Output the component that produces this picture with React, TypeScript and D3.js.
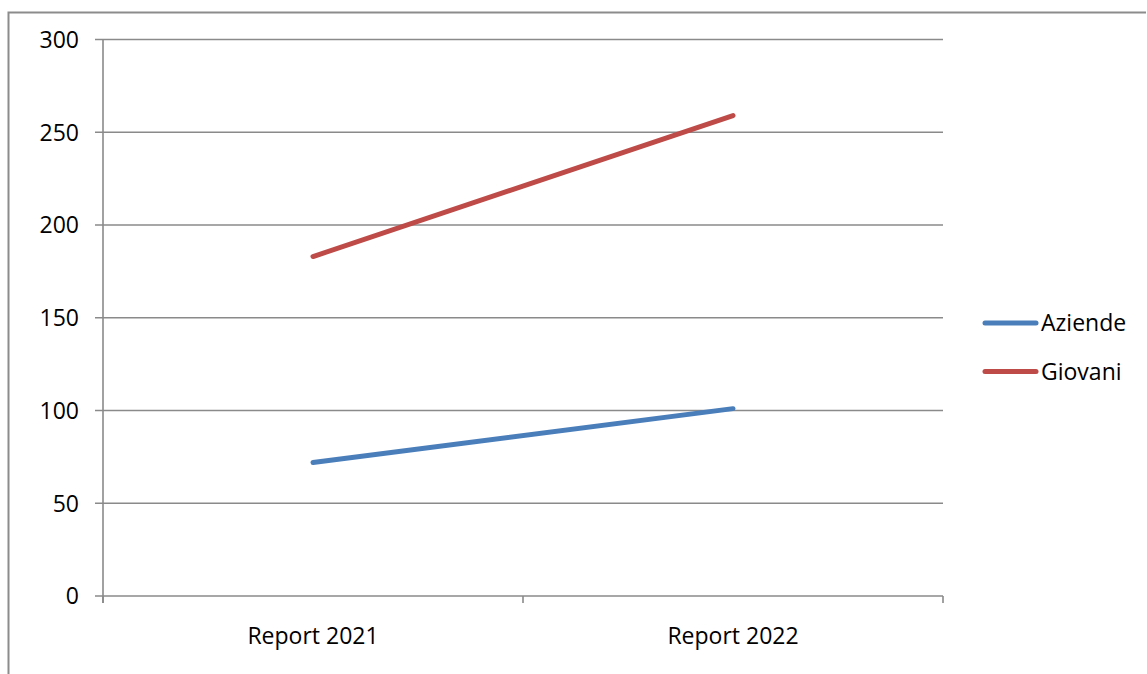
import React from "react";
import * as d3 from "d3";

const categories = ["Report 2021", "Report 2022"];
const aziende = [72, 101];
const giovani = [183, 259];
const yTicks = [0, 50, 100, 150, 200, 250, 300];
const seriesNames = ["Aziende", "Giovani"];
const seriesColors = ["#4A7EBB", "#BE4B48"];

const W = 1147;
const H = 674;
const plot = { left: 103, right: 943, top: 39.5, bottom: 596 };
const font = "'Open Sans', sans-serif";
const fontSize = 23;

export default function App() {
  const x = d3
    .scaleBand<string>()
    .domain(categories)
    .range([plot.left, plot.right])
    .paddingInner(0)
    .paddingOuter(0);
  const y = d3.scaleLinear().domain([0, 300]).range([plot.bottom, plot.top]);

  const line = d3
    .line<[string, number]>()
    .x((d) => (x(d[0]) as number) + x.bandwidth() / 2)
    .y((d) => y(d[1]));

  const series = [aziende, giovani].map((vals) =>
    categories.map((c, i) => [c, vals[i]] as [string, number])
  );

  const xTickPositions = [...categories.map((c) => x(c) as number), plot.right];

  return (
    <svg
      width={W}
      height={H}
      style={{ position: "absolute", left: 0, top: 0, background: "#fff" }}
    >
      {/* chart frame */}
      <path
        d={`M8.5,${H + 2} V12.5 H1146`}
        fill="none"
        stroke="#8c8c8c"
        strokeWidth={2}
      />

      {/* horizontal gridlines with tick stubs */}
      {yTicks.map((t) => (
        <g key={t}>
          <line
            x1={95}
            x2={plot.right}
            y1={y(t)}
            y2={y(t)}
            stroke="#8a8a8a"
            strokeWidth={1.6}
          />
          <text
            x={79}
            y={y(t)}
            dy="0.36em"
            textAnchor="end"
            fontFamily={font}
            fontSize={fontSize}
            fill="#000"
          >
            {t}
          </text>
        </g>
      ))}

      {/* value axis */}
      <line
        x1={plot.left}
        x2={plot.left}
        y1={plot.top}
        y2={plot.bottom + 7}
        stroke="#8a8a8a"
        strokeWidth={1.6}
      />

      {/* category ticks */}
      {xTickPositions.map((px, i) => (
        <line
          key={i}
          x1={px}
          x2={px}
          y1={plot.bottom}
          y2={plot.bottom + 7}
          stroke="#8a8a8a"
          strokeWidth={1.6}
        />
      ))}

      {categories.map((c) => (
        <text
          key={c}
          x={(x(c) as number) + x.bandwidth() / 2}
          y={644}
          textAnchor="middle"
          fontFamily={font}
          fontSize={fontSize}
          fill="#000"
        >
          {c}
        </text>
      ))}

      {/* series lines */}
      {series.map((s, i) => (
        <path
          key={i}
          d={line(s) || ""}
          fill="none"
          stroke={seriesColors[i]}
          strokeWidth={5}
          strokeLinecap="round"
        />
      ))}

      {/* legend */}
      {seriesNames.map((n, i) => {
        const ly = 323 + i * 48.5;
        return (
          <g key={n}>
            <line
              x1={985}
              x2={1036}
              y1={ly}
              y2={ly}
              stroke={seriesColors[i]}
              strokeWidth={5}
              strokeLinecap="round"
            />
            <text
              x={1041}
              y={ly}
              dy="0.36em"
              fontFamily={font}
              fontSize={fontSize}
              fill="#000"
            >
              {n}
            </text>
          </g>
        );
      })}
    </svg>
  );
}
